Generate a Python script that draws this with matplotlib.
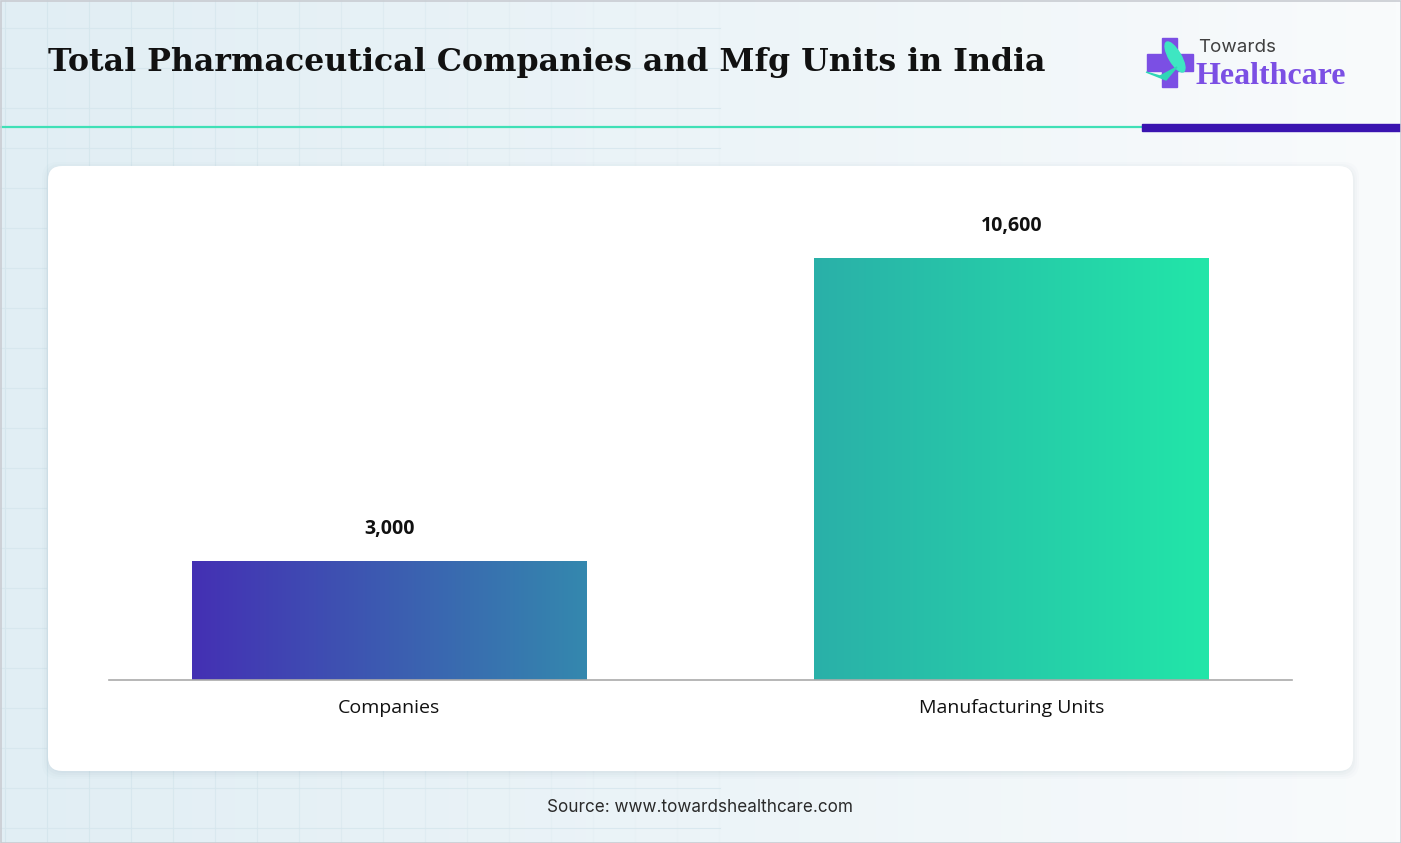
import numpy as np
import matplotlib.pyplot as plt
from matplotlib.patches import FancyBboxPatch, Rectangle, Polygon, Ellipse
from matplotlib.colors import LinearSegmentedColormap

categories = ['Companies', 'Manufacturing Units']
values = [3000, 10600]
value_labels = ['3,000', '10,600']
bar_colors = [('#4430b4', '#3488ae'), ('#2ab0a8', '#22e6a9')]

W, H = 1401, 843
fig = plt.figure(figsize=(W / 100, H / 100), dpi=100)

# background with faint grid, fading to white on the right
bg = fig.add_axes([0, 0, 1, 1], zorder=0)
bg.set_xlim(0, W)
bg.set_ylim(H, 0)
bg.axis('off')
grad = np.linspace(0, 1, 256).reshape(1, -1)
bg_cmap = LinearSegmentedColormap.from_list('bg', ['#e1eef4', '#ecf4f8', '#f9fbfc'])
bg.imshow(grad, cmap=bg_cmap, extent=[0, W, H, 0], aspect='auto', zorder=0)
for gx in range(5, 720, 42):
    bg.plot([gx, gx], [0, H], color='#d5e6ed', lw=0.8, alpha=max(0.1, 1 - gx / 720), zorder=1)
for gy in range(28, H, 40):
    bg.plot([0, 720], [gy, gy], color='#d5e6ed', lw=0.8, alpha=0.8, zorder=1)
bg.add_patch(Rectangle((0.5, 0.5), W - 1, H - 1, fill=False, ec='#c9ccd2', lw=1.2, zorder=5))

# header lines
bg.plot([0, 1142], [127, 127], color='#3fe0b6', lw=1.6, zorder=3)
bg.add_patch(Rectangle((1142, 123.5), W - 1142, 7, color='#3a14b0', zorder=3))

# title
bg.text(48, 62, 'Total Pharmaceutical Companies and Mfg Units in India',
        fontsize=22.8, fontweight='bold', family='DejaVu Serif',
        color='#111111', va='center', ha='left', zorder=4)

# logo
cross = '#7b4fe4'
bg.add_patch(Rectangle((1147, 54), 46, 17, color=cross, zorder=3))
bg.add_patch(Rectangle((1162, 38), 15, 49, color=cross, zorder=3))
bg.add_patch(Ellipse((1175, 57), 12, 34, angle=-30, color='#3ee6c2', zorder=4))
bg.add_patch(Polygon([[1146, 72], [1160, 76], [1177, 67], [1166, 80]], color='#2fd6b6', zorder=4))
bg.text(1198, 47, 'Towards', fontsize=13.5, family='Inter', color='#404040', va='center', zorder=4)
bg.text(1196, 77, 'Healthcare', fontsize=23, family='Liberation Serif', fontweight='bold',
        color='#7b4fe4', va='center', zorder=4)

# card with soft shadow
for i, a in enumerate([0.035, 0.03, 0.025, 0.02]):
    d = 2 + i * 2
    bg.add_patch(FancyBboxPatch((48 - d + 2, 166 - d + 4), 1305 + 2 * d - 4, 605 + 2 * d - 4,
                                boxstyle='round,pad=0,rounding_size=16',
                                fc='#6a8a99', ec='none', alpha=a, zorder=2))
bg.add_patch(FancyBboxPatch((48, 166), 1305, 605, boxstyle='round,pad=0,rounding_size=14',
                            fc='white', ec='none', zorder=3))

bg.text(700, 807, 'Source: www.towardshealthcare.com', fontsize=12.3, family='Inter',
        color='#2a2a2a', ha='center', va='center', zorder=4)

# chart axes
ax_left, ax_right = 109 / W, 1292 / W
ax_bottom, ax_top = 1 - 680 / H, 1 - 202 / H
ax = fig.add_axes([ax_left, ax_bottom, ax_right - ax_left, ax_top - ax_bottom], zorder=2)
ax.patch.set_alpha(0)
x = np.arange(len(categories))
width = 0.634
bars = ax.bar(x, values, width=width, color='none')

for bar, (c0, c1), lab in zip(bars, bar_colors, value_labels):
    bx, by = bar.get_x(), bar.get_y()
    bw, bh = bar.get_width(), bar.get_height()
    cmap = LinearSegmentedColormap.from_list('b', [c0, c1])
    im = ax.imshow(grad, cmap=cmap, extent=[bx, bx + bw, by, by + bh],
                   aspect='auto', zorder=2)
    im.set_clip_path(bar)
    ax.text(bx + bw / 2, bh + 800, lab, ha='center', va='center',
            fontsize=14, fontweight='bold', family='Open Sans', color='#111111')
ax.set_aspect('auto')
ax.set_xlim(-0.45, 1.45)
ax.set_ylim(0, 12000)

for s in ['top', 'right', 'left']:
    ax.spines[s].set_visible(False)
ax.spines['bottom'].set_color('#aaaaaa')
ax.spines['bottom'].set_linewidth(1.2)
ax.set_yticks([])
ax.set_xticks(x)
ax.set_xticklabels(categories, fontsize=14, family='Open Sans', color='#111111')
ax.tick_params(axis='x', length=0, pad=14)

fig.savefig('out.png', dpi=100)
